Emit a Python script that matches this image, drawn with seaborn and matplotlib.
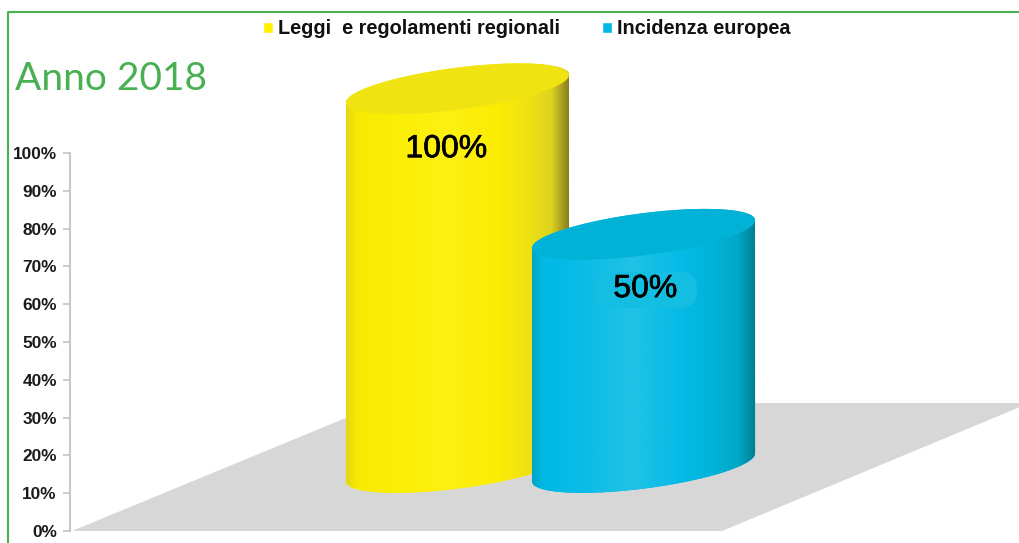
import numpy as np
import pandas as pd
import matplotlib
matplotlib.use("Agg")
import matplotlib.pyplot as plt
import matplotlib.patheffects as pe
from matplotlib.colors import LinearSegmentedColormap
from matplotlib.lines import Line2D
from matplotlib.patches import FancyBboxPatch, PathPatch, Polygon
from matplotlib.path import Path
import seaborn as sns

categories = ["Leggi  e regolamenti regionali", "Incidenza europea"]
shown_values = [100, 50]          # what the labels say
drawn_tops = [117.0, 78.5]        # where the cylinders really end on the axis
base_level = 16.8                 # centre of the cylinder bottoms on the axis
tick_values = [0, 10, 20, 30, 40, 50, 60, 70, 80, 90, 100]
bar_colors = ["#FFF200", "#00B9E6"]
top_colors = ["#EFE412", "#00B2D6"]
green = "#48B050"

body_colors = [
    ["#E4D810", "#F8EA05", "#FBEE04", "#FEF012", "#FBEC04", "#EEE214", "#DDD220", "#857A20"],
    ["#00A5C4", "#00B9E4", "#08BCE6", "#20C2E6", "#04BAE6", "#00B2D6", "#00A8C8", "#007C92"],
]

sns.set_theme(style="white")
plt.rcParams["font.family"] = ["Liberation Sans", "DejaVu Sans"]

W, H = 1020, 543
fig = plt.figure(figsize=(W / 100, H / 100), dpi=100)
ax = fig.add_axes([70 / W, (H - 531) / H, 950 / W, 531 / H])

df = pd.DataFrame({"voce": categories, "valore": drawn_tops})
sns.barplot(data=df, x="voce", y="valore", hue="voce", palette=bar_colors,
            dodge=False, width=1.2, saturation=1, ax=ax, zorder=3)

# 186 px between the two bars, 3.78 px for one percent
x_left = (70 - 457.5) / 186
x_right = (1020 - 457.5) / 186


def px(x, y):
    return (x - 457.5) / 186, (531 - y) / 3.78


# floor
floor = Polygon([px(72, 531), px(722, 531), px(1020, 407), px(1020, 403), px(382, 403)],
                closed=True, facecolor="#D7D7D7", edgecolor="none", zorder=1)
ax.add_patch(floor)

# cylinders
t_front = np.linspace(np.pi, 2 * np.pi, 80)
t_back = np.linspace(0, np.pi, 80)
t_all = np.linspace(0, 2 * np.pi, 160)
tilt = 3.7
depth = 5.6
bars = [c[0] for c in ax.containers]
for i, bar in enumerate(bars):
    x0 = bar.get_x()
    w = bar.get_width()
    cx = x0 + w / 2
    top = bar.get_height()
    xs = np.r_[cx + w / 2 * np.cos(t_front), cx + w / 2 * np.cos(t_back)]
    ys = np.r_[base_level + tilt * np.cos(t_front) + depth * np.sin(t_front),
               top + tilt * np.cos(t_back) + depth * np.sin(t_back)]
    body = PathPatch(Path(np.c_[xs, ys], closed=False), facecolor="none", edgecolor="none",
                     transform=ax.transData, zorder=3 + i)
    ax.add_patch(body)
    bar.set_zorder(3 + i)
    bar.set_clip_path(body)
    cmap = LinearSegmentedColormap.from_list(
        "c%d" % i,
        list(zip([0, 0.05, 0.2, 0.45, 0.68, 0.82, 0.92, 1.0], body_colors[i])))
    grad = np.linspace(0, 1, 256).reshape(1, -1)
    im = ax.imshow(grad, cmap=cmap, aspect="auto", extent=(x0, x0 + w, 0, top + 10),
                   zorder=3 + i, interpolation="bilinear")
    im.set_clip_path(body)
    lid = Polygon(np.c_[cx + w / 2 * np.cos(t_all),
                        top + tilt * np.cos(t_all) + depth * np.sin(t_all)],
                  closed=True, facecolor=top_colors[i], edgecolor="none", zorder=3 + i)
    ax.add_patch(lid)

ax.set_xlim(x_left, x_right)
ax.set_ylim(0, 531 / 3.78)

# value labels
stroke = [pe.withStroke(linewidth=0.5, foreground="black")]
ax.text(-0.06, 101.0, "%d%%" % shown_values[0], ha="center", va="center", fontsize=23,
        color="black", path_effects=stroke, zorder=8)
halo_x, halo_y = px(595, 308)
halo_x2, halo_y2 = px(697, 272)
ax.add_patch(FancyBboxPatch((halo_x, halo_y), halo_x2 - halo_x, halo_y2 - halo_y,
                            boxstyle="round,pad=0,rounding_size=0.09", mutation_aspect=49,
                            facecolor="#14BEE2", edgecolor="none", zorder=7))
ax.text(1.01, 64.0, "%d%%" % shown_values[1], ha="center", va="center", fontsize=23,
        color="black", path_effects=stroke, zorder=8)

# axis
ax.set_xlabel("")
ax.set_ylabel("")
ax.set_xticks([])
ax.set_yticks(tick_values)
ax.set_yticklabels(["%d%%" % v for v in tick_values], fontsize=12.4, fontweight="bold", color="#1A1A1A")
ax.tick_params(axis="y", length=5, width=1.2, color="#C4C4C4", pad=4.5, left=True)
sns.despine(ax=ax, right=True, top=True, bottom=True)
ax.spines["left"].set_bounds(0, 100)
ax.spines["left"].set_color("#C8C8C8")
ax.spines["left"].set_linewidth(1.5)
ax.patch.set_alpha(0)

# legend
fig.legend(bars, categories, loc="center", bbox_to_anchor=(527 / W, 1 - 29 / H), ncol=2,
           frameon=False, prop={"size": 14.35, "weight": "bold"}, handlelength=0.5,
           handleheight=0.5, handletextpad=0.25, columnspacing=2.1,
           labelcolor="#111111")

# frame and heading
fig.add_artist(Line2D([8 / W, 8 / W, 1], [0, 1 - 12 / H, 1 - 12 / H], color=green, lw=1.5))
fig.text(15 / W, 1 - 90 / H, "Anno 2018", family=["Lato", "DejaVu Sans"], fontsize=28,
         color=green, ha="left", va="baseline")

fig.savefig("out.png", dpi=100)
